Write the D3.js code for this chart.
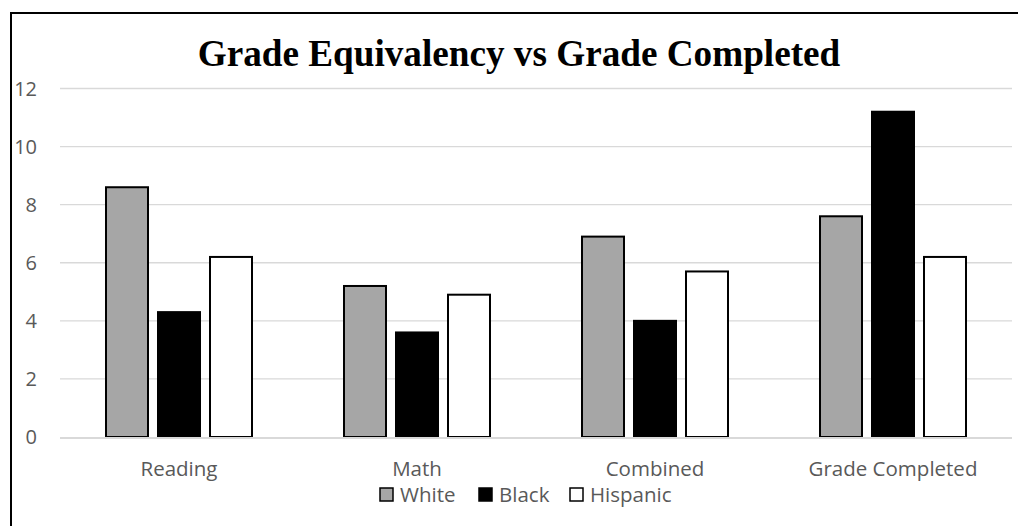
<!DOCTYPE html>
<html><head><meta charset="utf-8">
<script src="https://cdn.jsdelivr.net/npm/d3@7"></script>
<style>body{margin:0;background:#fff}svg{display:block}</style>
</head><body>
<svg id="c" width="1018" height="526"></svg>
<script>
const categories = ["Reading", "Math", "Combined", "Grade Completed"];
const seriesNames = ["White", "Black", "Hispanic"];
const white = [8.6, 5.2, 6.9, 7.6];
const black = [4.3, 3.6, 4.0, 11.2];
const hispanic = [6.2, 4.9, 5.7, 6.2];
const yTicks = [0, 2, 4, 6, 8, 10, 12];
const colors = ["#a6a6a6", "#000000", "#ffffff"];
const seriesValues = [white, black, hispanic];

const svg = d3.select("#c");
const x0 = d3.scaleBand().domain(categories).range([60, 1012]).paddingInner(0).paddingOuter(0);
const y = d3.scaleLinear().domain([0, 12]).range([437, 88.5]);
const barW = 42, gap = 10;
const groupW = barW * 3 + gap * 2;
const x1 = d3.scaleBand().domain(seriesNames).range([0, groupW]).paddingInner(gap / (barW + gap));
const FONT = "'Open Sans', sans-serif";
const FS = 20.5;

// outer border
svg.append("path").attr("d", "M11,530 L11,13 L1030,13").attr("fill", "none").attr("stroke", "#000").attr("stroke-width", 2);

// gridlines
svg.append("g").selectAll("line").data(yTicks.filter(d => d > 0)).join("line")
  .attr("x1", 60).attr("x2", 1012).attr("y1", d => y(d)).attr("y2", d => y(d))
  .attr("stroke", "#d9d9d9").attr("stroke-width", 1.3);

// y labels
svg.append("g").selectAll("text").data(yTicks).join("text")
  .attr("x", 37).attr("y", d => y(d)).attr("dy", "0.36em").attr("text-anchor", "end")
  .attr("font-family", FONT).attr("font-size", 20).attr("fill", "#595959")
  .text(d => d);

// bars
const g = svg.append("g").selectAll("g").data(categories).join("g")
  .attr("transform", d => `translate(${x0(d) + (x0.bandwidth() - groupW) / 2},0)`);
g.selectAll("rect").data((c, i) => seriesNames.map((s, j) => ({ s, j, v: seriesValues[j][i] }))).join("rect")
  .attr("x", d => x1(d.s)).attr("width", x1.bandwidth())
  .attr("y", d => y(d.v)).attr("height", d => y(0) - y(d.v))
  .attr("fill", d => colors[d.j]).attr("stroke", "#000").attr("stroke-width", 2);

// baseline
svg.append("line").attr("x1", 60).attr("x2", 1012).attr("y1", y(0) + 1).attr("y2", y(0) + 1)
  .attr("stroke", "#d9d9d9").attr("stroke-width", 2);

// category labels
svg.append("g").selectAll("text").data(categories).join("text")
  .attr("x", d => x0(d) + x0.bandwidth() / 2).attr("y", 476).attr("text-anchor", "middle")
  .attr("font-family", FONT).attr("font-size", FS).attr("fill", "#595959")
  .text(d => d);

// title
svg.append("text").attr("x", 519).attr("y", 66).attr("text-anchor", "middle")
  .attr("font-family", "'Liberation Serif', 'Times New Roman', serif").attr("font-weight", "bold")
  .attr("font-size", 37.2).attr("fill", "#000").text("Grade Equivalency vs Grade Completed");

// legend
const legX = [380, 479, 570];
const lg = svg.append("g").selectAll("g").data(seriesNames).join("g")
  .attr("transform", (d, i) => `translate(${legX[i]},488)`);
lg.append("rect").attr("x", 0).attr("y", 0).attr("width", 13).attr("height", 13)
  .attr("fill", (d, i) => colors[i]).attr("stroke", "#000").attr("stroke-width", 1.5);
lg.append("text").attr("x", 20).attr("y", 14)
  .attr("font-family", FONT).attr("font-size", FS).attr("fill", "#595959")
  .text(d => d);
</script>
</body></html>
